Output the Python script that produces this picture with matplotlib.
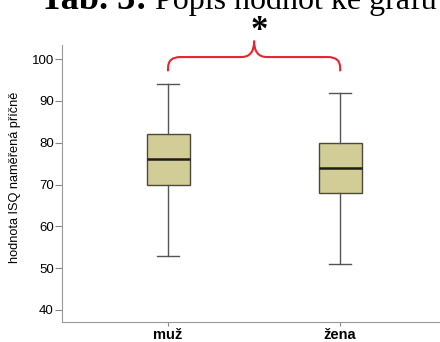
import matplotlib
matplotlib.use("Agg")
import matplotlib.pyplot as plt
from matplotlib.path import Path
from matplotlib.patches import PathPatch

categories = ["muž", "žena"]
whisker_low = [53, 51]
q1 = [70, 68]
median = [76, 74]
q3 = [82, 80]
whisker_high = [94, 92]
yticks = [40, 50, 60, 70, 80, 90, 100]
ylabel = "hodnota ISQ naměřená příčně"
title_bold = "Tab. 3:"
title_rest = " Popis hodnot ke grafu 1"

plt.rcParams['font.family'] = ['Liberation Sans', 'DejaVu Sans']
serif = ["Liberation Serif", "DejaVu Serif"]

fig = plt.figure(figsize=(4.4, 3.42), dpi=100)
ax = fig.add_axes([0.141, 0.0585, 0.859, 0.8095])

stats = []
for i, c in enumerate(categories):
    stats.append(dict(label=c, whislo=whisker_low[i], q1=q1[i], med=median[i],
                      q3=q3[i], whishi=whisker_high[i], fliers=[]))
positions = list(range(1, len(categories) + 1))
ax.bxp(stats, positions=positions, widths=0.25, patch_artist=True,
       boxprops=dict(facecolor="#D2CD96", edgecolor="#4a4a3a", linewidth=1.0),
       medianprops=dict(color="#1e1e14", linewidth=1.8),
       whiskerprops=dict(color="#555555", linewidth=1.0),
       capprops=dict(color="#555555", linewidth=1.0),
       capwidths=0.125, showfliers=False)

ax.set_xlim(0.384, 2.58)
ax.set_ylim(37.13, 103.35)
ax.set_yticks(yticks)
ax.set_xticks(positions)
ax.set_xticklabels(categories, fontweight="bold", fontsize=10.5)
ax.tick_params(axis="y", labelsize=9.5, length=5, color="#888888", pad=1)
ax.tick_params(axis="x", length=3, color="#888888", pad=1.5)
for s in ["top", "right"]:
    ax.spines[s].set_visible(False)
for s in ["left", "bottom"]:
    ax.spines[s].set_color("#999999")
ax.set_ylabel(ylabel, fontsize=9.2)
ax.yaxis.set_label_coords(-0.108, 0.523)

# significance brace (red) between the two groups
x0, x1 = positions[0], positions[1]
xm = (x0 + x1) / 2
yb, yh, yp = 97.1, 100.5, 104.3
r, d = 0.07, 2.6
rm = 0.075
verts = [(x0, yb), (x0, yh - d), (x0, yh), (x0 + r, yh),
         (xm - rm, yh), (xm, yh), (xm, yp),
         (xm, yh), (xm + rm, yh),
         (x1 - r, yh), (x1, yh), (x1, yh - d), (x1, yb)]
codes = [Path.MOVETO, Path.LINETO, Path.CURVE3, Path.CURVE3,
         Path.LINETO, Path.CURVE3, Path.CURVE3,
         Path.CURVE3, Path.CURVE3,
         Path.LINETO, Path.CURVE3, Path.CURVE3, Path.LINETO]
ax.add_patch(PathPatch(Path(verts, codes), fill=False, edgecolor="#e8242c",
                       linewidth=1.5, clip_on=False, capstyle="butt",
                       joinstyle="round"))
ax.text(1.53, 106.5, "*", ha="center", va="center", fontsize=25,
        fontweight="bold", family=serif, clip_on=False)

t1 = fig.text(0.09, 0.975, title_bold, fontsize=26, fontweight="bold",
              family=serif, va="baseline")
fig.canvas.draw()
bb = t1.get_window_extent()
fig.text(bb.x1 / fig.bbox.width, 0.975, title_rest, fontsize=23,
         family=serif, va="baseline")

fig.savefig("out.png", dpi=100)
